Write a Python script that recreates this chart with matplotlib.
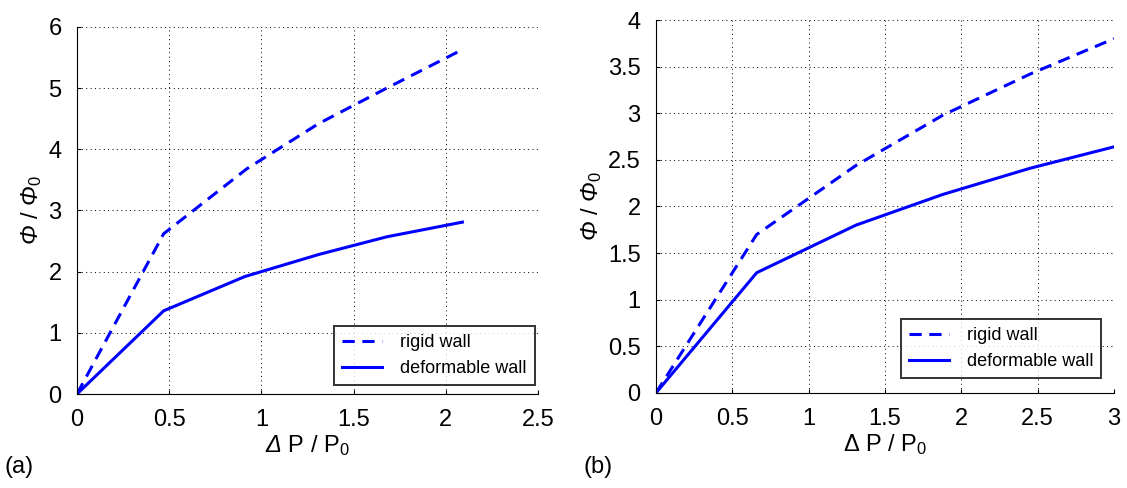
import matplotlib
matplotlib.use("Agg")
import matplotlib.pyplot as plt

plt.rcParams.update({"font.family": "Liberation Sans", "mathtext.fontset": "custom",
                     "mathtext.rm": "Liberation Sans", "mathtext.it": "Liberation Sans:italic",
                     "mathtext.sf": "Liberation Sans:italic",
                     "font.size": 17})

# panel (a)
xa = [0, 0.47, 0.92, 1.31, 1.66, 2.07]
rigid_a = [0, 2.62, 3.68, 4.42, 4.97, 5.6]
xa_def = [0, 0.47, 0.91, 1.31, 1.68, 2.09]
deform_a = [0, 1.36, 1.92, 2.28, 2.57, 2.81]

# panel (b)
xb = [0, 0.66, 1.31, 1.88, 2.45, 3.0]
rigid_b = [0, 1.70, 2.44, 2.98, 3.42, 3.80]
deform_b = [0, 1.29, 1.80, 2.13, 2.41, 2.64]

fig = plt.figure(figsize=(11.27, 4.88), dpi=100)
ax1 = fig.add_axes([0.0683, 0.1926, 0.4091, 0.7521])
ax2 = fig.add_axes([0.582, 0.1947, 0.4065, 0.7643])

def style(ax, xlim, ylim, xt, yt, xlab, legpos):
    ax.set_xlim(*xlim); ax.set_ylim(*ylim)
    ax.set_xticks(xt); ax.set_yticks(yt)
    ax.set_xticklabels([f"{v:g}" for v in xt]); ax.set_yticklabels([f"{v:g}" for v in yt])
    ax.grid(True, color="k", linestyle=(0, (1, 3.5)), linewidth=0.7)
    for s in ("top", "right"):
        ax.spines[s].set_visible(False)
    ax.tick_params(direction="in", length=3, pad=11, labelsize=17)
    ax.set_xlabel(xlab, labelpad=1, fontsize=17)
    ax.set_ylabel(r"$\mathsf{\Phi}$ / $\mathsf{\Phi}_0$", labelpad=3, fontsize=17)
    leg = ax.legend(loc="lower right", bbox_to_anchor=legpos, fontsize=13, frameon=True,
                    fancybox=False, edgecolor="k", handlelength=2.2, borderpad=0.45,
                    labelspacing=0.5, handletextpad=1.0, borderaxespad=0)
    leg.get_frame().set_linewidth(1.4)

ax1.plot(xa, rigid_a, color="#0000ff", lw=2.2, ls=(0, (4, 2.5)), label="rigid wall")
ax1.plot(xa_def, deform_a, color="#0000ff", lw=2.2, label="deformable wall")
style(ax1, (0, 2.5), (0, 6), [0, 0.5, 1, 1.5, 2, 2.5], [0, 1, 2, 3, 4, 5, 6],
      r"$\mathsf{\Delta}$ P / P$_0$", (0.993, 0.024))

ax2.plot(xb, rigid_b, color="#0000ff", lw=2.2, ls=(0, (4, 2.5)), label="rigid wall")
ax2.plot(xb, deform_b, color="#0000ff", lw=2.2, label="deformable wall")
style(ax2, (0, 3), (0, 4), [0, 0.5, 1, 1.5, 2, 2.5, 3], [0, 0.5, 1, 1.5, 2, 2.5, 3, 3.5, 4],
      r"$\Delta$ P / P$_0$", (0.972, 0.04))

fig.text(0.004, 0.03, "(a)", fontsize=17)
fig.text(0.518, 0.03, "(b)", fontsize=17)

fig.savefig("out.png", dpi=100)
